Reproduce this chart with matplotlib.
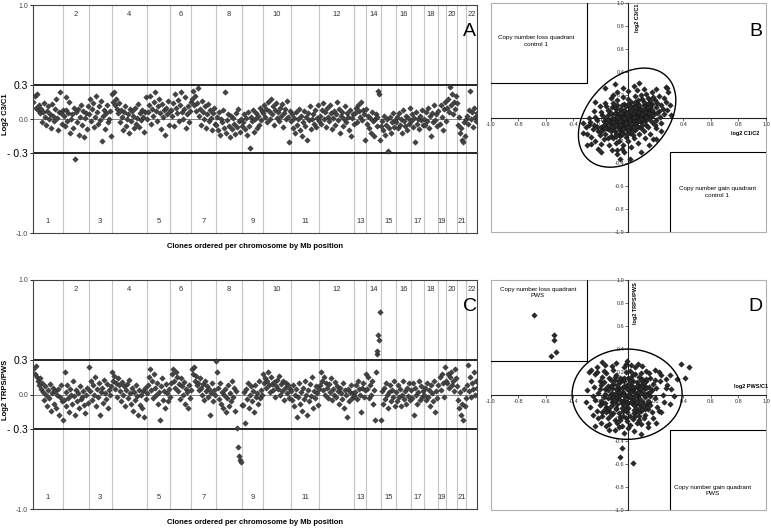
import numpy as np
import matplotlib
matplotlib.use("Agg")
import matplotlib.pyplot as plt
from matplotlib.patches import Ellipse, Rectangle

plt.rcParams['font.family'] = ['Liberation Sans', 'DejaVu Sans']

# chromosomes and number of clones on each (x axis of panels A and C)
chromosomes = list(range(1, 23))
clones_per_chrom = [240, 206, 182, 285, 184, 168, 195, 213, 163, 224, 229, 280,
                    94, 118, 120, 120, 101, 115, 66, 88, 72, 86]
threshold = 0.3

# log2 C3/C1 per chromosome (x100), read along each chromosome
c3_c1 = [
    [15, 20, 10, 22, 8, 12, 5, 9, -3, 6, 14, 2, -5, 7, 11, 0, 4, -8, 13, 3, -2, 9, 18, 1, -10, 6, 24, 5, -4, 8],
    [3, -6, 8, 19, -2, 5, 15, -12, 0, 4, -8, 10, -35, 6, -3, 9, -14, 2, 12, -5, 7, -16, 1, 5, -9, 11],
    [4, 18, -2, 9, 14, -7, 2, 20, 6, -4, 11, -1, 16, -19, 3, 8, -9, 5, 12, -3, 0, 7, -15],
    [22, 15, 24, 12, 18, 9, 5, 14, -3, 8, 2, -10, 6, 11, -6, 0, 4, -12, 9, -2, 7, 3, -8, 10, -4, 1, 13, -7, 5, -1, 8, 2, -11, 6, 19, 0],
    [6, 12, 20, -4, 9, 3, 15, 24, 7, -2, 11, 18, 5, -9, 13, 2, 8, -14, 10, 4, 16, -5, 7],
    [8, 3, 14, -6, 22, 10, 5, 17, -2, 12, 24, 6, 0, 9, 19, -8, 4, 11, -3, 7, 15],
    [18, 25, 12, 20, 7, 14, 27, 3, 9, -5, 16, 6, 0, 11, -8, 4, 13, -2, 8, 1, -10, 5, 10, -4],
    [-5, 2, -10, 6, -14, 0, -3, 8, -8, 24, -12, -1, 4, -6, -16, 3, -9, 1, -4, -13, 5, -7, 9, -2, -11, 0, -6],
    [-3, 4, -9, 1, -14, 6, -6, -25, 2, -2, 8, -11, 0, 5, -8, 3, -5, 10, -1, 7],
    [5, 12, 2, 9, -3, 15, 7, 0, 18, 4, 11, -5, 8, 14, 1, 6, -2, 10, 3, 13, -7, 5, 9, 0, 16, 2, -20, 7],
    [-2, 4, -8, 1, -12, 6, -5, 0, 9, -10, 3, -15, -3, 7, -6, 2, -18, 5, -1, 11, -9, 0, 4, -4, 8, -7, 1, 12, -2],
    [3, -4, 8, 14, 0, 6, -7, 10, 2, -2, 12, 5, -9, 1, 7, -5, 4, 15, -1, 9, -12, 3, 6, -6, 0, 11, -3, 5, 2, -10, 8, -15, 1, 4, -4],
    [5, 10, -3, 12, 7, 2, 15, -1, 8, 4, -18, 9],
    [-4, 3, -8, 1, -12, 6, -2, -15, 0, 4, -6, 2, 25, 22, -18],
    [-6, -2, -10, 3, -14, -5, 0, -28, -8, 2, -12, -3, 5, -7, -1],
    [-3, 2, -8, 5, -5, 0, -12, 8, -2, -6, 3, -10, 1, -4, 10],
    [-2, 4, -7, 1, -20, 6, -4, 0, -9, 3, -1, 8, -5],
    [0, -5, 6, -2, 10, -8, 3, -15, 5, -3, 12, -1, 4, -6],
    [7, -4, 12, 2, -10, 9, 15, -2],
    [10, 18, 6, 28, 12, 22, 4, 15, 9, 20, 14],
    [-5, 2, -12, -8, -18, -20, -3, -15, 0],
    [3, -4, 8, 25, 0, 6, -7, 10, 2, -2, 5],
]

# log2 TRPS/PWS per chromosome (x100)
trps_pws = [
    [22, 18, 25, 15, 12, 8, 14, 5, 10, 2, -5, 7, 0, -10, 4, -3, 9, -14, 1, 6, -8, 3, -12, 0, 5, -18, -2, 8, -6, -22],
    [-5, 20, 2, -10, 8, -3, -15, 5, 0, -8, 12, -1, -18, 4, -6, 1, -12, 7, -4, -2, 3, -9, -16, 0, 6, -7],
    [24, 3, 12, -5, 8, 0, 15, -10, 5, -2, 10, -18, 2, 6, -7, 13, 1, -4, 9, -12, 4, 0, 7],
    [20, 12, 16, 5, 10, -2, 14, 8, 3, -6, 11, 0, 7, -10, 4, 9, -3, 13, 1, -8, 6, -14, 2, -5, 8, -1, -18, 4, -9, 0, -12, 3, -20, 6, -4, 1],
    [8, 15, 22, 4, 12, -3, 18, 6, 0, 10, -8, 2, -22, 7, 14, -5, 3, -12, 9, 1, -6, 5, -2],
    [10, 18, 22, 12, 6, 20, 15, 3, 9, -4, 14, 7, 0, 11, -8, 5, 2, -12, 8, -3, 4],
    [22, 18, 24, 12, 16, 8, 10, 4, 14, 6, 0, 9, -5, 12, 3, 7, -2, 5, -18, 1, 10, -6, 4, 0],
    [29, 20, 6, -4, 10, -8, 2, -12, 0, 5, -15, -3, 8, -10, 1, -6, 12, -2, 6, -14, 3, -29, -46, -54, -57, -59, -9],
    [-9, 2, -25, 5, -4, 10, -12, 0, 7, -6, 3, -15, 8, -2, 1, -8, 12, -3, 4, 0],
    [18, 10, 14, 6, 12, 20, 8, 2, 15, 9, 4, 11, -2, 7, 13, 5, 16, 0, 9, 3, 12, -5, 6, 10, 1, 8, -3, 5],
    [3, -5, 8, -10, 0, 5, -20, -2, 10, -8, 2, -14, 6, -4, 12, 0, -18, 4, -6, 9, -1, 15, -12, 3, -3, 7, 1, -9, 5],
    [8, 20, 12, 4, 15, 0, 10, 6, -3, 9, 2, 14, -5, 5, 0, 11, -2, 7, 3, -8, 6, 1, -4, 10, -12, 4, 0, -20, 5, -6, 2, 8, -3, 1, -1],
    [2, 8, -4, 12, 5, 0, -15, 6, 10, -2, 4, 18],
    [5, 15, -3, 8, 0, 12, -8, 4, -22, 20, 35, 38, 52, 48, 72],
    [-22, 3, -8, 6, -4, 10, 0, -12, 2, 8, -6, 4, -2, 12, -10],
    [2, -6, 8, -2, 5, -10, 0, 12, -4, 3, -8, 6, -1, 10, -5],
    [4, -3, 10, -18, 6, 0, -8, 2, 12, -5, 7, -2, 3],
    [0, 6, -5, 10, -2, 4, -10, 8, 1, -6, 12, -15, 3, -3],
    [8, 15, 4, 18, 10, -2, 24, 12],
    [10, 18, 6, 15, 20, 8, 12, 3, 22, 14, 7],
    [-5, -12, 2, -18, -8, -22, 5, -10, -3],
    [8, 26, 3, 15, -2, 10, 5, 20, 0, 12, 6],
]

# panel B: (log2 C1/C2, log2 C3/C1) x100
c1c2_c3c1 = [
    (-20, -8), (-18, -3), (-15, -10), (-12, -5), (-10, 0), (-8, -7), (-5, -2), (-3, 3), (0, -4), (2, 1),
    (5, 4), (8, -1), (10, 6), (12, 2), (15, 8), (18, 5), (-22, -12), (-17, -14), (-13, -1), (-9, 4),
    (-6, -11), (-2, -9), (1, 7), (4, -6), (7, 9), (11, 11), (14, 3), (17, 12), (20, 9), (-25, -6),
    (-14, 6), (-7, 2), (-1, -1), (3, -3), (6, 2), (9, -4), (13, 7), (16, 1), (-19, 2), (-11, -9),
    (-4, -13), (0, 5), (4, 10), (8, 4), (12, -3), (15, 13), (19, 15), (22, 6), (-23, -2), (-16, -6),
    (-12, 3), (-8, -2), (-4, 6), (-1, -6), (2, -10), (5, 0), (7, -8), (10, 1), (13, -6), (16, 6),
    (-21, -15), (-15, -18), (-10, -12), (-6, -16), (-3, -8), (1, -13), (5, -11), (9, -9), (-18, -19), (-13, -16),
    (-7, -20), (-2, -17), (3, -15), (-12, 9), (-8, 11), (-3, 12), (2, 14), (6, 13), (10, 16), (14, 17),
    (18, 18), (21, 13), (24, 11), (-26, -10), (-28, -4), (-24, 1), (-20, 5), (-16, 10), (-11, 13), (-6, 8),
    (-2, 10), (1, 2), (4, 5), (7, 0), (11, -1), (-9, -4), (-5, -6), (-1, -3), (3, 1), (6, -4),
    (9, 8), (12, 10), (15, -1), (18, 2), (21, 4), (25, 8), (27, 14), (-30, -14), (-27, -17), (-24, -20),
    (-20, -23), (-14, -24), (-9, -22), (-4, -24), (0, -20), (4, -18), (8, -14), (11, -12), (14, -8), (17, -4),
    (20, -2), (23, 1), (26, 3), (-17, 13), (-13, 17), (-8, 15), (-4, 18), (0, 16), (5, 19), (9, 20),
    (13, 21), (17, 22), (22, 19), (26, 17), (29, 22), (-31, -8), (-33, -5), (-29, 0), (-25, 6), (-21, 10),
    (-27, -23), (-12, -28), (-3, -30), (2, -26), (7, -22), (12, -18), (16, -14), (20, -9), (24, -5), (28, 7),
    (30, 11), (-19, -11), (-14, -3), (-10, 4), (-7, -9), (-3, -4), (1, -8), (4, 3), (8, 7), (13, 4),
    (16, 9), (-5, 1), (0, 0), (2, -2), (-2, 4), (6, 6), (-9, 8), (-13, -7), (-17, 0), (10, -6),
    (14, 12), (-23, -8), (19, -6), (-11, -18), (3, 9), (-6, -13), (7, 15), (-15, 2), (11, 4), (-1, -11),
    (-30, -24), (-22, -27), (-8, -32), (-5, -27), (1, -36), (-8, -28), (-6, -36), (9, -30), (18, -19), (24, -12),
    (31, 2), (27, 27), (28, 26), (20, 25), (11, 25), (-8, 22), (-17, 26), (-24, 14), (-33, -13), (-20, -30),
    (15, -24), (-29, -6), (-11, 20), (6, 24), (-10, 29), (4, 28), (-4, 26), (0, 23), (8, 30), (20, -19),
    (-10, -3), (-7, -5), (-4, -1), (-2, 2), (1, -2), (3, 4), (6, 1), (8, 3), (-12, -8), (-9, -6),
    (-6, -3), (-3, 0), (0, 2), (3, -1), (5, 6), (9, 2), (11, 7), (-14, -4), (-11, -1), (-8, 1),
    (-5, -9), (-2, -5), (2, -6), (4, -2), (7, 5), (10, -2), (-16, -9), (-13, -12), (-9, -14), (-4, -10),
    (0, -8), (2, 6), (5, 9), (8, 11), (12, 5), (14, 9), (-18, -6), (-15, -2), (-7, 4), (-3, 7),
    (1, 10), (6, -7), (9, -1), (13, 1), (17, 7), (-20, -12), (-17, -9), (-11, -4), (-6, -6), (-1, 4),
    (4, 1), (7, -3), (10, 3), (15, 4), (-9, -16), (-5, -14), (-1, -14), (3, -11), (-15, 7), (-10, 9),
    (-5, 11), (0, 12), (5, 14), (11, 14), (16, 15),
]

# panel D: (log2 PWS/C1, log2 TRPS/PWS) x100
pwsc1_trpspws = [
    (-20, -8), (-17, 5), (-14, -14), (-11, 10), (-8, -3), (-5, 14), (-2, -10), (1, 4), (4, -16), (7, 9),
    (10, -5), (13, 12), (16, -1), (-22, 2), (-19, -18), (-15, 8), (-12, -6), (-9, 17), (-6, -19), (-3, 1),
    (0, -7), (3, 12), (6, -12), (9, 3), (12, -17), (15, 7), (-24, -4), (-21, 12), (-16, -10), (-13, 1),
    (-10, -22), (-7, 6), (-4, -14), (-1, 9), (2, -3), (5, 18), (8, -8), (11, 0), (14, -12), (17, 4),
    (-18, -2), (-14, 15), (-11, -16), (-8, 4), (-5, -7), (-2, 20), (1, -18), (4, 6), (7, -1), (10, 14),
    (13, -9), (-20, 9), (-17, -12), (-13, -3), (-9, -11), (-6, 11), (-3, -4), (0, 15), (3, -21), (6, 1),
    (9, -14), (12, 8), (15, -6), (18, 10), (-23, -14), (-19, 16), (-15, -20), (-12, 6), (-8, -24), (-4, 3),
    (-1, -15), (2, 9), (5, -9), (8, 16), (11, -20), (14, 2), (-25, 7), (-21, -9), (-16, 19), (-10, 13),
    (-7, -16), (-3, 24), (0, -2), (3, 4), (6, -24), (9, 19), (12, -2), (16, 15), (19, -3), (-26, -1),
    (-22, -20), (-18, 21), (-14, -25), (-11, 22), (-7, -28), (-2, 27), (1, -26), (5, 24), (9, -25), (13, 21),
    (17, -15), (20, 6), (-24, 18), (-20, -24), (-12, 25), (-5, -27), (2, 26), (8, -22), (15, 19), (21, -10),
    (23, 12), (-27, 12), (-28, -10), (-23, 24), (-16, -27), (-9, 28), (0, -29), (7, 27), (14, -24), (19, 22),
    (25, 0), (-30, 4), (-26, -17), (-17, 26), (-10, -30), (-1, 30), (10, 25), (18, -20), (24, 17), (26, -6),
    (-6, 2), (-2, -1), (2, 3), (-4, -5), (4, -4), (0, 0), (-8, 9), (8, 5), (-12, -9), (12, -12),
    (-1, 7), (3, -8), (-7, -1), (6, 11), (-15, 4), (11, -8), (-3, 12), (5, -18), (-10, 1), (9, 9),
    (-17, -7), (16, -9), (-13, 13), (13, 14), (-6, -22), (1, 21), (-19, -15), (19, 13), (22, -14), (28, 9),
    (27, 14), (31, 5), (33, -1), (30, 17), (35, 14), (38, 27), (44, 24), (41, 15), (27, 6), (22, 20),
    (24, -15), (30, -8), (20, -24), (14, -28), (-29, 20), (-27, 22), (-23, 20), (-19, 29), (-14, -30), (-3, -33),
    (4, -31), (-31, -6), (-24, -27), (9, -34), (-5, -46), (-6, -54), (3, -59), (-69, 70), (-54, 52), (-54, 48),
    (-56, 34), (-53, 37),
    (-10, -5), (-7, 3), (-4, -8), (-1, 5), (2, -6), (5, 2), (8, -3), (11, 5), (-13, 8), (-9, -12),
    (-6, -4), (-3, 8), (0, -11), (3, 7), (6, -5), (9, -10), (12, 1), (-15, -3), (-12, 2), (-8, -8),
    (-5, 6), (-2, -13), (1, 12), (4, -13), (7, 3), (10, 8), (-17, 1), (-14, -11), (-11, -2), (-7, 12),
    (-4, -18), (-1, -6), (2, 16), (5, -1), (8, -18), (11, 11), (14, -5), (-18, 11), (-16, -15), (-9, 5),
    (-6, 15), (-2, -20), (3, 18), (6, 8), (10, -12), (13, 6), (-20, -5), (-10, 16), (-5, -11), (0, 9),
    (4, -9), (9, 13), (-13, -17), (-3, 15), (7, -15), (16, 3), (-21, 5), (-1, -23), (1, -1), (-4, 0),
]

# fitted ellipses: centre, width, height, angle (data units)
ellipse_b = ((-0.01, 0.0), 0.936, 0.614, 60)
ellipse_d = ((-0.01, 0.007), 0.80, 0.785, 0)


def genome_panel(ax, values, ylabel, letter):
    starts = np.concatenate([[0], np.cumsum(clones_per_chrom)[:-1]])
    total = sum(clones_per_chrom)
    xs, ys = [], []
    for s, n, v in zip(starts, clones_per_chrom, values):
        k = len(v)
        xs.extend(s + (np.arange(k) + 0.5) * n / k)
        ys.extend(np.array(v) / 100)
    for b in np.cumsum(clones_per_chrom)[:-1]:
        ax.axvline(b, color='#c4c4c4', lw=0.8, zorder=1)
    ax.axhline(threshold, color='k', lw=1.2, zorder=2)
    ax.axhline(-threshold, color='k', lw=1.2, zorder=2)
    ax.axhline(0, color='#555', lw=0.5, zorder=1)
    ax.plot(xs, ys, 'D', ms=2.8, mfc='#444', mec='#222', mew=0.3, ls='none', zorder=3)
    for c, s, n in zip(chromosomes, starts, clones_per_chrom):
        y = 0.92 if c % 2 == 0 else -0.9
        ax.text(s + n / 2, y, str(c), ha='center', va='center', fontsize=5.5, color='#333')
    ax.set_xlim(0, total)
    ax.set_ylim(-1, 1)
    ax.set_xticks([])
    ax.set_yticks([-1, -threshold, 0, threshold, 1])
    ax.set_yticklabels(['-1.0', '- 0.3', '0.0', '0.3', '1.0'])
    for lab, big in zip(ax.get_yticklabels(), [False, True, False, True, False]):
        lab.set_fontsize(7.5 if big else 5)
        lab.set_color('black' if big else '#444')
    ax.tick_params(axis='y', length=2, width=0.6, pad=1.5)
    for sp in ax.spines.values():
        sp.set_color('#444')
        sp.set_linewidth(0.8)
    ax.text(-0.0615, 0.52, ylabel, transform=ax.transAxes, rotation=90,
            ha='center', va='center', fontsize=5.5, fontweight='bold')
    ax.text(0.5, -0.061, 'Clones ordered per chromosome by Mb position',
            transform=ax.transAxes, ha='center', va='center', fontsize=5.5, fontweight='bold')
    ax.text(0.984, 0.883, letter, transform=ax.transAxes, ha='center', va='center', fontsize=14)


def quadrant_panel(ax, pairs, ell, xlabel, xlabel_at, ylabel, ylabel_at,
                   group, loss_at, gain_at, letter_at, letter):
    pts = np.array(pairs) / 100
    ax.set_xlim(-1, 1)
    ax.set_ylim(-1, 1)
    ax.spines['left'].set_position('zero')
    ax.spines['bottom'].set_position('zero')
    ax.spines['top'].set_visible(False)
    ax.spines['right'].set_visible(False)
    for sp in ('left', 'bottom'):
        ax.spines[sp].set_color('#222')
        ax.spines[sp].set_linewidth(0.8)
    ax.add_patch(Rectangle((0, 0), 1, 1, transform=ax.transAxes, fill=False,
                           ec='#b0b0b0', lw=0.8, clip_on=False))
    ticks = [-1, -0.8, -0.6, -0.4, -0.2, 0.2, 0.4, 0.6, 0.8, 1.0]
    ax.set_xticks(ticks)
    ax.set_yticks(ticks)
    ax.set_xticklabels([f'{t:.1f}' for t in ticks])
    ax.set_yticklabels([f'{t:.1f}' for t in ticks])
    ax.tick_params(labelsize=4, length=2, width=0.5, colors='#333', pad=1)
    ax.plot([-1, -threshold, -threshold], [threshold, threshold, 1], color='k', lw=0.8)
    ax.plot([threshold, threshold, 1], [-1, -threshold, -threshold], color='k', lw=0.8)
    ax.plot(pts[:, 0], pts[:, 1], 'D', ms=2.8, mfc='#2a2a2a', mec='#111', mew=0.3,
            ls='none', zorder=3)
    (cx, cy), w, h, ang = ell
    ax.add_patch(Ellipse((cx, cy), w, h, angle=ang, fill=False, ec='k', lw=1.0, zorder=4))
    ax.text(*loss_at, 'Copy number loss quadrant\n' + group, ha='center', va='center',
            fontsize=4.5, linespacing=1.3)
    ax.text(*gain_at, 'Copy number gain quadrant\n' + group, ha='center', va='center',
            fontsize=4.5, linespacing=1.3)
    ax.text(*xlabel_at, xlabel, ha='center', va='center', fontsize=4, fontweight='bold')
    ax.text(*ylabel_at, ylabel, ha='center', va='center', fontsize=4, fontweight='bold',
            rotation=90)
    ax.text(*letter_at, letter, ha='center', va='center', fontsize=14)


fig = plt.figure(figsize=(7.71, 5.29), dpi=100)
ax_a = fig.add_axes([0.0428, 0.5595, 0.5759, 0.431])
ax_b = fig.add_axes([0.6368, 0.5614, 0.3567, 0.4324])
ax_c = fig.add_axes([0.0428, 0.0378, 0.5759, 0.4329])
ax_d = fig.add_axes([0.6368, 0.0359, 0.3567, 0.4348])

genome_panel(ax_a, c3_c1, 'Log2 C3/C1', 'A')
genome_panel(ax_c, trps_pws, 'Log2 TRPS/PWS', 'C')
quadrant_panel(ax_b, c1c2_c3c1, ellipse_b, 'log2 C1/C2', (0.85, -0.14),
               'log2 C3/C1', (0.065, 0.87), 'control 1', (-0.67, 0.67), (0.645, -0.65),
               (0.925, 0.754), 'B')
quadrant_panel(ax_d, pwsc1_trpspws, ellipse_d, 'log2 PWS/C1', (0.89, 0.07),
               'log2 TRPS/PWS', (0.05, 0.8), 'PWS', (-0.66, 0.89), (0.61, -0.83),
               (0.925, 0.77), 'D')

fig.savefig('out.png', dpi=100)
